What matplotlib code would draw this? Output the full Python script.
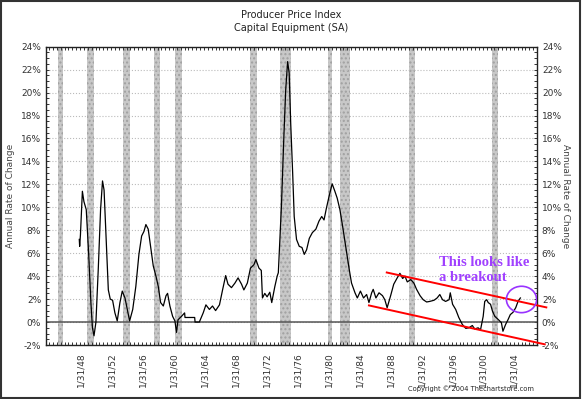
import matplotlib
matplotlib.use("Agg")
import matplotlib.pyplot as plt
from matplotlib.patches import Ellipse, Rectangle
import numpy as np

# annual rate of change (decimal year, percent)
years = [1947.9, 1947.95, 1948.05, 1948.3, 1948.5, 1948.8, 1949.1, 1949.4, 1949.6, 1949.8,
         1950.05, 1950.35, 1950.65, 1950.9, 1951.1, 1951.35, 1951.65, 1951.9, 1952.2, 1952.5,
         1952.8, 1953.15, 1953.45, 1953.8, 1954.1, 1954.4, 1954.8, 1955.2, 1955.6, 1955.95,
         1956.25, 1956.5, 1956.8, 1957.1, 1957.45, 1957.8, 1958.1, 1958.4, 1958.75, 1959.1,
         1959.3, 1959.6, 1959.95, 1960.25, 1960.45, 1960.65, 1961.1, 1961.5, 1961.55, 1962.8,
         1962.85, 1963.4, 1963.9, 1964.25, 1964.7, 1965.1, 1965.5, 1966.0, 1966.4, 1966.8,
         1967.1, 1967.55, 1968.0, 1968.4, 1968.85, 1969.15, 1969.6, 1970.0, 1970.45, 1970.7,
         1971.1, 1971.4, 1971.55, 1971.85, 1972.15, 1972.5, 1972.75, 1973.15, 1973.45, 1973.6,
         1974.0, 1974.3, 1974.55, 1974.8, 1975.0, 1975.2, 1975.45, 1975.65, 1975.95, 1976.3,
         1976.65, 1976.95, 1977.25, 1977.6, 1978.0, 1978.45, 1978.85, 1979.2, 1979.5, 1979.8,
         1980.15, 1980.55, 1980.9, 1981.2, 1981.55, 1981.9, 1982.3, 1982.75, 1983.05, 1983.5,
         1983.8, 1984.2, 1984.6, 1985.0, 1985.3, 1985.65, 1985.85, 1986.2, 1986.6, 1987.05,
         1987.35, 1987.65, 1988.1, 1988.5, 1988.95, 1989.3, 1989.65, 1989.95, 1990.25, 1990.7,
         1991.1, 1991.45, 1991.9, 1992.3, 1992.75, 1993.15, 1993.7, 1994.1, 1994.45, 1994.8,
         1995.2, 1995.65, 1995.8, 1996.1, 1996.5, 1996.9, 1997.35, 1997.8, 1998.2, 1998.65,
         1998.95, 1999.4, 1999.7, 2000.05, 2000.25, 2000.5, 2000.7, 2001.0, 2001.25, 2001.55,
         2001.95, 2002.4, 2002.6, 2002.95, 2003.25, 2003.55, 2003.9, 2004.25, 2004.55, 2004.85]
rate = [7.2, 6.6, 7.6, 11.4, 10.5, 9.8, 6.1, 1.7, -0.5, -1.2,
        0.0, 4.6, 9.8, 12.3, 11.5, 7.5, 2.8, 2.0, 1.9, 0.8,
        0.1, 1.7, 2.7, 2.1, 1.1, 0.1, 1.1, 3.1, 5.9, 7.5,
        7.9, 8.5, 8.1, 6.6, 4.9, 4.0, 3.1, 1.7, 1.4, 2.3,
        2.5, 1.4, 0.5, 0.1, -0.9, 0.2, 0.5, 0.8, 0.4, 0.4,
        0.0, 0.0, 0.8, 1.5, 1.1, 1.4, 1.0, 1.5, 2.8, 4.05,
        3.3, 3.0, 3.4, 3.85, 3.3, 2.8, 3.4, 4.7, 5.0, 5.45,
        4.7, 4.5, 2.1, 2.5, 2.2, 2.6, 1.7, 3.1, 4.0, 4.3,
        10.1, 15.9, 20.2, 22.7, 21.7, 17.3, 13.0, 9.2, 7.2, 6.6,
        6.5, 5.9, 6.3, 7.3, 7.8, 8.1, 8.8, 9.2, 8.9, 9.9,
        10.95, 12.05, 11.4, 10.8, 9.8, 8.35, 6.6, 4.6, 3.4, 2.55,
        2.1, 2.7, 2.1, 2.4, 1.7, 2.55, 2.85, 2.1, 2.55, 2.3,
        1.95, 1.25, 2.3, 3.3, 3.85, 4.25, 3.8, 4.0, 3.5, 3.7,
        3.4, 2.85, 2.3, 1.95, 1.75, 1.8, 1.9, 2.1, 2.4, 1.95,
        1.8, 1.95, 2.55, 1.55, 1.1, 0.4, -0.2, -0.55, -0.5, -0.3,
        -0.6, -0.5, -0.7, 0.5, 1.8, 1.95, 1.7, 1.55, 0.95, 0.5,
        0.25, -0.05, -0.8, -0.2, 0.2, 0.65, 0.85, 1.25, 1.8, 2.1]

# recessions (start, end)
rec_start = [1945.1, 1948.85, 1953.5, 1957.6, 1960.3, 1969.9, 1973.85, 1980.0, 1981.5, 1990.5, 2001.2]
rec_end = [1945.8, 1949.8, 1954.4, 1958.3, 1961.1, 1970.9, 1975.2, 1980.5, 1982.9, 1991.2, 2001.9]

# channel lines drawn on the chart
chan_x = [1987.6, 2008.2]
upper_y = [4.32, 1.28]
low_x = [1985.3, 2008.0]
lower_y = [1.45, -1.94]

tick_years = [1948, 1952, 1956, 1960, 1964, 1968, 1972, 1976, 1980, 1984, 1988, 1992, 1996, 2000, 2004]
tick_labels = ["1/31/%02d" % (y % 100) for y in tick_years]

fig = plt.figure(figsize=(5.82, 3.99), dpi=100)
ax = fig.add_axes([0.079, 0.1353, 0.8437, 0.7477])

for s, e in zip(rec_start, rec_end):
    ax.axvspan(s, e, facecolor="#c8c8c8", edgecolor="#a0a0a0", hatch="....", linewidth=0, zorder=0)

ax.plot(years, rate, color="black", linewidth=0.9, zorder=3)
ax.axhline(0, color="#555555", linewidth=1.1, zorder=2)

ax.set_xlim(1943.6, 2007.0)
ax.set_ylim(-2, 24)
ax.set_yticks(np.arange(-2, 25, 2))
ax.set_yticks(np.arange(-2, 24.1, 0.5), minor=True)
ax.set_yticklabels(["%d%%" % v for v in range(-2, 25, 2)])
ax.set_xticks([y + 1 / 12 for y in tick_years])
ax.set_xticklabels(tick_labels, rotation=90)
ax.set_xticks(np.arange(1944, 2007, 0.5), minor=True)
ax.grid(axis="y", which="major", color="#bbbbbb", linestyle=":", linewidth=0.8)
ax.tick_params(which="both", direction="in", top=True, right=True, labelright=True,
               labelsize=6.5, colors="#333333", length=2, width=0.7)
ax.tick_params(axis="x", which="major", length=0, pad=5)
for sp in ax.spines.values():
    sp.set_linewidth(1.0)
    sp.set_color("#222222")

ax.set_ylabel("Annual Rate of Change", fontsize=6.5, color="#444444")
ax2 = ax.secondary_yaxis("right")
ax2.set_yticks([])
ax2.set_ylabel("Annual Rate of Change", fontsize=6.5, color="#444444", rotation=-90, labelpad=24)
ax2.spines["right"].set_visible(False)

ax.plot(chan_x, upper_y, color="red", linewidth=1.4, clip_on=False, zorder=4)
ax.plot(low_x, lower_y, color="red", linewidth=1.4, clip_on=False, zorder=4)
ax.add_patch(Ellipse((2005.0, 1.97), 3.9, 2.3, fill=False, edgecolor="#9933ff", linewidth=1.2, zorder=5))
ax.text(1994.4, 5.75, "This looks like\na breakout", color="#a040ff", fontsize=10.5, fontweight="bold",
        family="Liberation Serif", va="top", ha="left", linespacing=1.2, zorder=5)

fig.text(0.5, 0.962, "Producer Price Index", ha="center", va="center", fontsize=7, color="#222222")
fig.text(0.5, 0.93, "Capital Equipment (SA)", ha="center", va="center", fontsize=7, color="#222222")
fig.text(0.918, 0.027, "Copyright \u00a9 2004 Thechartstore.com", ha="right", va="center", fontsize=4.8, color="#222222")
fig.patches.append(Rectangle((0.002, 0.003), 0.995, 0.994, transform=fig.transFigure, fill=False,
                             edgecolor="#333333", linewidth=1.5))

fig.savefig("out.png", dpi=100)
